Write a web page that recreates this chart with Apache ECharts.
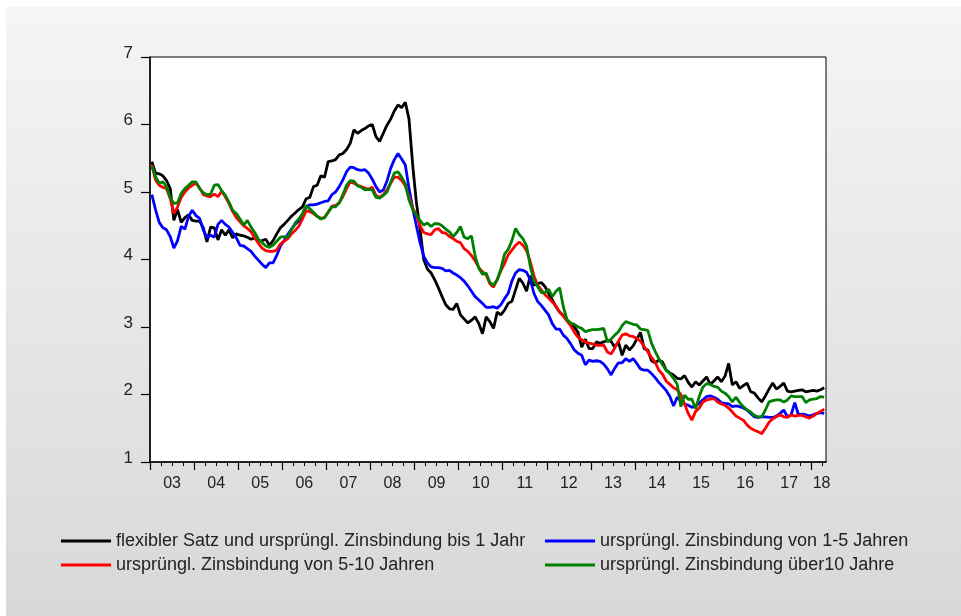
<!DOCTYPE html>
<html>
<head>
<meta charset="utf-8">
<script src="https://cdn.jsdelivr.net/npm/echarts@6/dist/echarts.min.js"></script>
<style>
  html, body { margin: 0; padding: 0; background: #fff; }
  #chart { width: 961px; height: 616px; }
</style>
</head>
<body>
<div id="chart"></div>
<script>
// Monatswerte Jan 2003 - Apr 2018 (Prozent)
const yearLabels = ['03', '04', '05', '06', '07', '08', '09', '10', '11', '12', '13', '14', '15', '16', '17', '18'];

// flexibler Satz und ursprüngl. Zinsbindung bis 1 Jahr
const rateUpTo1 = [
  5.45, 5.28, 5.27, 5.24, 5.17, 5.05, 4.58, 4.74, 4.55, 4.62, 4.66, 4.58,
  4.57, 4.57, 4.47, 4.26, 4.48, 4.47, 4.29, 4.44, 4.36, 4.44, 4.32, 4.38,
  4.36, 4.35, 4.33, 4.30, 4.32, 4.27, 4.28, 4.30, 4.21, 4.28, 4.38, 4.47,
  4.52, 4.58, 4.64, 4.69, 4.74, 4.78, 4.90, 4.92, 5.08, 5.10, 5.24, 5.22,
  5.45, 5.46, 5.48, 5.55, 5.57, 5.63, 5.72, 5.92, 5.87, 5.91, 5.94, 5.98,
  6.00, 5.82, 5.75, 5.87, 5.99, 6.08, 6.20, 6.29, 6.25, 6.33, 6.08, 5.40,
  4.85, 4.45, 4.00, 3.86, 3.80, 3.70, 3.58, 3.45, 3.33, 3.27, 3.26, 3.35,
  3.18, 3.12, 3.06, 3.10, 3.15, 3.05, 2.90, 3.15, 3.08, 2.98, 3.22, 3.18,
  3.25, 3.35, 3.38, 3.55, 3.72, 3.65, 3.53, 3.76, 3.62, 3.64, 3.66, 3.60,
  3.50, 3.40, 3.30, 3.22, 3.17, 3.10, 3.05, 3.00, 2.92, 2.70, 2.82, 2.68,
  2.68, 2.78, 2.76, 2.78, 2.80, 2.79, 2.70, 2.78, 2.58, 2.73, 2.66, 2.72,
  2.82, 2.92, 2.68, 2.66, 2.50, 2.47, 2.51, 2.48, 2.36, 2.32, 2.29, 2.24,
  2.23, 2.28, 2.18, 2.11, 2.19, 2.14, 2.20, 2.26, 2.15, 2.20, 2.26, 2.19,
  2.27, 2.46, 2.14, 2.19, 2.09, 2.13, 2.17, 2.04, 2.02, 1.95, 1.89, 1.98,
  2.08, 2.17, 2.08, 2.12, 2.17, 2.05, 2.04, 2.05, 2.06, 2.07, 2.04, 2.05,
  2.06, 2.05, 2.07, 2.10
];

// ursprüngl. Zinsbindung von 1-5 Jahren
const rate1to5 = [
  4.96, 4.74, 4.55, 4.47, 4.44, 4.34, 4.17, 4.28, 4.49, 4.45, 4.64, 4.73,
  4.65, 4.61, 4.44, 4.32, 4.36, 4.33, 4.52, 4.58, 4.52, 4.48, 4.40, 4.32,
  4.21, 4.20, 4.16, 4.12, 4.05, 3.99, 3.93, 3.88, 3.95, 3.95, 4.06, 4.20,
  4.28, 4.37, 4.45, 4.52, 4.57, 4.66, 4.78, 4.81, 4.81, 4.82, 4.84, 4.86,
  4.87, 4.96, 5.00, 5.08, 5.18, 5.30, 5.37, 5.36, 5.33, 5.32, 5.33, 5.28,
  5.19, 5.08, 5.00, 5.03, 5.16, 5.35, 5.48, 5.57, 5.49, 5.40, 5.05, 4.76,
  4.50, 4.25, 4.05, 3.95, 3.89, 3.88, 3.88, 3.87, 3.83, 3.84, 3.80, 3.77,
  3.73, 3.68, 3.61, 3.53, 3.45, 3.40, 3.35, 3.29, 3.29, 3.30, 3.28, 3.33,
  3.42, 3.50, 3.68, 3.80, 3.85, 3.84, 3.81, 3.70, 3.50, 3.38, 3.32, 3.25,
  3.18, 3.05, 2.97, 2.97, 2.88, 2.83, 2.75, 2.66, 2.61, 2.58, 2.44, 2.51,
  2.49, 2.50, 2.49, 2.45, 2.38, 2.29, 2.39, 2.47, 2.47, 2.53, 2.49, 2.53,
  2.46, 2.38, 2.36, 2.36, 2.31, 2.25, 2.18, 2.12, 2.06, 1.97, 1.83, 1.96,
  1.90, 1.86, 1.84, 1.81, 1.83, 1.87, 1.92, 1.97, 1.98, 1.96, 1.93, 1.88,
  1.87, 1.86, 1.82, 1.83, 1.82, 1.80, 1.77, 1.72, 1.67, 1.66, 1.67, 1.67,
  1.66, 1.66, 1.68, 1.72, 1.77, 1.67, 1.70, 1.88, 1.70, 1.71, 1.70, 1.68,
  1.70, 1.72, 1.73, 1.72
];

// ursprüngl. Zinsbindung von 5-10 Jahren
const rate5to10 = [
  5.40, 5.18, 5.10, 5.07, 5.05, 4.90, 4.68, 4.78, 4.92, 5.00, 5.06, 5.10,
  5.13, 5.06, 4.96, 4.94, 4.93, 4.97, 4.93, 5.01, 4.93, 4.83, 4.71, 4.62,
  4.56, 4.50, 4.46, 4.41, 4.32, 4.24, 4.17, 4.13, 4.12, 4.12, 4.14, 4.23,
  4.27, 4.31, 4.38, 4.43, 4.49, 4.60, 4.72, 4.71, 4.68, 4.64, 4.61, 4.62,
  4.70, 4.79, 4.80, 4.84, 4.93, 5.05, 5.15, 5.13, 5.10, 5.08, 5.06, 5.04,
  5.07, 4.95, 4.92, 4.96, 5.03, 5.13, 5.22, 5.22, 5.17, 5.09, 4.93, 4.76,
  4.66, 4.50, 4.40, 4.38, 4.37, 4.44, 4.46, 4.40, 4.39, 4.34, 4.31, 4.27,
  4.25, 4.16, 4.12, 4.06, 3.98, 3.88, 3.82, 3.77, 3.64, 3.59, 3.70, 3.83,
  3.94, 4.07, 4.14, 4.21, 4.26, 4.21, 4.13, 3.97, 3.76, 3.62, 3.55, 3.48,
  3.43, 3.37, 3.31, 3.22, 3.16, 3.09, 3.02, 2.92, 2.85, 2.81, 2.78, 2.76,
  2.75, 2.73, 2.73, 2.73, 2.63, 2.60, 2.69, 2.79, 2.88, 2.90, 2.87, 2.86,
  2.83, 2.79, 2.71, 2.63, 2.55, 2.48, 2.36, 2.30, 2.20, 2.15, 2.10, 2.07,
  2.00, 1.86, 1.72, 1.62, 1.75, 1.80, 1.89, 1.92, 1.93, 1.94, 1.89, 1.86,
  1.84, 1.80, 1.74, 1.68, 1.65, 1.62, 1.55, 1.50, 1.47, 1.45, 1.42, 1.50,
  1.59, 1.64, 1.67, 1.70, 1.67, 1.66, 1.70, 1.68, 1.69, 1.69, 1.67, 1.65,
  1.68, 1.72, 1.75, 1.78
];

// ursprüngl. Zinsbindung über 10 Jahre
const rateOver10 = [
  5.38, 5.23, 5.13, 5.15, 5.08, 4.92, 4.83, 4.84, 4.98, 5.05, 5.10, 5.15,
  5.15, 5.05, 4.99, 4.96, 4.97, 5.10, 5.11, 5.02, 4.95, 4.85, 4.73, 4.68,
  4.60, 4.51, 4.58, 4.48, 4.40, 4.30, 4.25, 4.20, 4.18, 4.21, 4.27, 4.33,
  4.34, 4.33, 4.44, 4.54, 4.60, 4.68, 4.80, 4.75, 4.70, 4.64, 4.60, 4.62,
  4.70, 4.78, 4.78, 4.84, 4.96, 5.10, 5.17, 5.16, 5.09, 5.07, 5.03, 5.04,
  5.03, 4.92, 4.91, 4.95, 5.00, 5.14, 5.28, 5.30, 5.22, 5.12, 4.88, 4.74,
  4.66, 4.58, 4.51, 4.54, 4.49, 4.53, 4.53, 4.50, 4.45, 4.41, 4.34, 4.40,
  4.49, 4.33, 4.31, 4.35, 4.05, 3.87, 3.78, 3.80, 3.66, 3.62, 3.70, 3.86,
  4.08, 4.15, 4.28, 4.46, 4.37, 4.31, 4.20, 3.90, 3.68, 3.60, 3.51, 3.51,
  3.56, 3.45, 3.53, 3.58, 3.30, 3.11, 3.06, 3.04, 3.00, 2.98, 2.93, 2.95,
  2.96, 2.96, 2.97, 2.98, 2.78, 2.82, 2.88, 2.93, 3.02, 3.08, 3.06, 3.04,
  3.03, 2.97, 2.96, 2.95, 2.76, 2.64, 2.53, 2.44, 2.36, 2.31, 2.24, 2.15,
  1.82, 1.99, 1.93, 1.93, 1.79, 1.97, 2.11, 2.16, 2.15, 2.12, 2.11, 2.05,
  2.02, 1.97, 1.89, 1.96, 1.88, 1.82, 1.77, 1.74, 1.69, 1.67, 1.67, 1.77,
  1.89, 1.91, 1.92, 1.92, 1.89, 1.92, 1.98, 1.97, 1.97, 1.97, 1.88, 1.92,
  1.93, 1.94, 1.97, 1.96
];

const seriesNames = [
  'flexibler Satz und ursprüngl. Zinsbindung bis 1 Jahr',
  'ursprüngl. Zinsbindung von 1-5 Jahren',
  'ursprüngl. Zinsbindung von 5-10 Jahren',
  'ursprüngl. Zinsbindung über10 Jahre'
];
const seriesColors = ['#000000', '#0000ff', '#ff0000', '#008000'];

const MONTHS = 184; // Jan 2003 .. Apr 2018
const FONT = '"Liberation Sans", Arial, sans-serif';

// x-Achse in Monaten seit Jan 2003, Punkt in Monatsmitte
function toPoints(arr) {
  return arr.map((v, i) => [i + 0.5, v]);
}

const yearTicks = [];
for (let m = 0; m <= 180; m += 12) yearTicks.push(m);
const quarterTicks = [];
for (let m = 3; m < MONTHS; m += 3) if (m % 12 !== 0) quarterTicks.push(m);
// Jahresbeschriftung mittig im (sichtbaren) Jahr
const labelPos = yearLabels.map((_, k) => Math.min(k * 12 + 6, (k * 12 + MONTHS) / 2 + 0.8));

const chart = echarts.init(document.getElementById('chart'), null, { renderer: 'canvas' });

const allSeries = [rateUpTo1, rate1to5, rate5to10, rateOver10].map((arr, k) => ({
  name: seriesNames[k],
  type: 'line',
  data: toPoints(arr),
  showSymbol: false,
  symbol: 'none',
  lineStyle: { color: seriesColors[k], width: 2.8 },
  itemStyle: { color: seriesColors[k] },
  z: 2 + k
}));

const legendBase = {
  orient: 'vertical',
  top: 531,
  padding: 0,
  icon: 'rect',
  itemWidth: 50,
  itemHeight: 3,
  itemGap: 4,
  textStyle: { fontSize: 18, fontFamily: FONT, color: '#222', lineHeight: 20 }
};

chart.setOption({
  animation: false,
  backgroundColor: '#ffffff',
  graphic: [{
    type: 'rect',
    shape: { x: 6, y: 7, width: 955, height: 609 },
    style: {
      fill: new echarts.graphic.LinearGradient(0, 0, 0, 1, [
        { offset: 0, color: '#f5f5f5' },
        { offset: 1, color: '#d8d8d8' }
      ])
    },
    z: -10,
    silent: true
  }],
  grid: {
    left: 150,
    top: 57,
    width: 676,
    height: 405,
    show: true,
    backgroundColor: '#ffffff',
    borderColor: '#000000',
    borderWidth: 1
  },
  xAxis: [
    {
      type: 'value',
      min: 0,
      max: MONTHS,
      interval: 12,
      axisLine: { show: true, lineStyle: { color: '#000', width: 1.5 } },
      axisTick: { show: true, length: 8, customValues: yearTicks, lineStyle: { color: '#000', width: 1.2 } },
      axisLabel: {
        customValues: labelPos,
        formatter: v => {
          const k = labelPos.findIndex(p => Math.abs(p - v) < 0.01);
          return k >= 0 ? yearLabels[k] : '';
        },
        fontSize: 16,
        fontFamily: FONT,
        color: '#222',
        margin: 14
      },
      splitLine: { show: false }
    },
    {
      type: 'value',
      min: 0,
      max: MONTHS,
      interval: 12,
      position: 'bottom',
      axisLine: { show: false },
      axisTick: { show: true, length: 4, customValues: quarterTicks, lineStyle: { color: '#000', width: 1 } },
      axisLabel: { show: false },
      splitLine: { show: false }
    }
  ],
  yAxis: {
    type: 'value',
    min: 1,
    max: 7,
    interval: 1,
    axisLine: { show: true, lineStyle: { color: '#000', width: 1.5 } },
    axisTick: { show: true, length: 9, lineStyle: { color: '#000', width: 1.2 } },
    axisLabel: {
      fontSize: 17,
      fontFamily: FONT,
      color: '#222',
      margin: 17,
      verticalAlign: 'bottom',
      lineHeight: 8
    },
    splitLine: { show: false }
  },
  legend: [
    Object.assign({ data: [seriesNames[0], seriesNames[2]], left: 61 }, legendBase),
    Object.assign({ data: [seriesNames[1], seriesNames[3]], left: 545 }, legendBase)
  ],
  series: allSeries
});
</script>
</body>
</html>
